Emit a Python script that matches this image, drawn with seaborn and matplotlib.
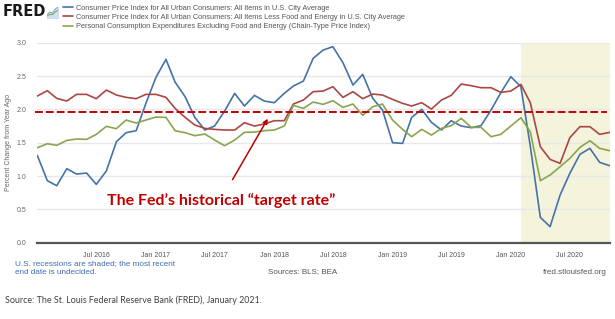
import numpy as np
import pandas as pd
import matplotlib
matplotlib.use("Agg")
import matplotlib.pyplot as plt
import matplotlib.dates as mdates
import seaborn as sns

# monthly data, Jan 2016 - Nov 2020 (percent change from year ago)
months = pd.date_range("2016-01-01", periods=59, freq="MS")

cpi_all = [1.31, 0.93, 0.855, 1.11, 1.03, 1.045, 0.875, 1.075, 1.515, 1.65, 1.68, 2.09, 2.48, 2.75, 2.41,
           2.19, 1.88, 1.69, 1.75, 1.975, 2.24, 2.05, 2.21, 2.125, 2.10, 2.24, 2.35, 2.425, 2.765, 2.89,
           2.94, 2.70, 2.365, 2.525, 2.165, 1.99, 1.50, 1.49, 1.88, 2.0, 1.805, 1.69, 1.83, 1.75, 1.725,
           1.755, 1.99, 2.25, 2.49, 2.34, 1.45, 0.38, 0.24, 0.715, 1.04, 1.325, 1.415, 1.205, 1.155]
cpi_core = [2.20, 2.28, 2.165, 2.125, 2.225, 2.225, 2.16, 2.29, 2.215, 2.18, 2.16, 2.225, 2.225, 2.18, 2.015,
            1.88, 1.765, 1.715, 1.70, 1.69, 1.69, 1.80, 1.75, 1.78, 1.83, 1.83, 2.08, 2.14, 2.265, 2.275,
            2.34, 2.18, 2.265, 2.16, 2.23, 2.215, 2.15, 2.09, 2.05, 2.10, 2.005, 2.14, 2.21, 2.38, 2.355,
            2.325, 2.325, 2.255, 2.275, 2.375, 2.10, 1.44, 1.25, 1.19, 1.575, 1.74, 1.74, 1.625, 1.655]
pce_core = [1.425, 1.485, 1.46, 1.535, 1.555, 1.55, 1.625, 1.745, 1.71, 1.84, 1.795, 1.84, 1.885, 1.88, 1.68,
            1.65, 1.605, 1.63, 1.54, 1.455, 1.54, 1.655, 1.66, 1.68, 1.69, 1.75, 2.06, 2.015, 2.11, 2.075,
            2.13, 2.03, 2.08, 1.91, 2.04, 2.08, 1.84, 1.70, 1.59, 1.70, 1.615, 1.715, 1.755, 1.865, 1.73,
            1.73, 1.59, 1.625, 1.75, 1.875, 1.665, 0.93, 1.015, 1.14, 1.265, 1.43, 1.53, 1.415, 1.38]

series_names = [
    "Consumer Price Index for All Urban Consumers: All Items in U.S. City Average",
    "Consumer Price Index for All Urban Consumers: All Items Less Food and Energy in U.S. City Average",
    "Personal Consumption Expenditures Excluding Food and Energy (Chain-Type Price Index)",
]
colors = ["#4572a7", "#aa4643", "#89a54e"]

target_rate = 1.965
recession_start = pd.Timestamp("2020-02-01")
tick_dates = pd.date_range("2016-07-01", "2020-07-01", freq="6MS")
yticks = [0.0, 0.5, 1.0, 1.5, 2.0, 2.5, 3.0]

df = pd.DataFrame({"date": np.tile(months, 3),
                   "value": cpi_all + cpi_core + pce_core,
                   "series": np.repeat(series_names, len(months))})

sns.set_theme(style="white")
plt.rcParams["font.family"] = ["Liberation Sans", "DejaVu Sans"]

fig = plt.figure(figsize=(6.15, 3.19), dpi=100)
ax = fig.add_axes([37.3 / 615, 1 - 242.7 / 319, (609.7 - 37.3) / 615, 200 / 319])

ax.axvspan(recession_start, months[-1], color="#f4f3dc", zorder=0, lw=0)
for y in yticks[1:]:
    ax.axhline(y, color="#e8e8e8", lw=1.0, zorder=0.5)

sns.lineplot(data=df, x="date", y="value", hue="series", palette=colors, lw=1.2,
             legend=False, ax=ax, zorder=3)

ax.axhline(target_rate, xmin=-0.004, xmax=0.996, color="#c00000", lw=1.4,
           ls=(0, (4, 1.6)), zorder=4, clip_on=False)

ax.set_xlim(months[0], months[-1])
ax.set_ylim(0, 3)
ax.set_yticks(yticks)
ax.set_yticklabels([f"{v:.1f}" for v in yticks])
ax.set_xticks(tick_dates)
ax.xaxis.set_major_formatter(mdates.DateFormatter("%b %Y"))
ax.tick_params(axis="x", direction="out", length=4, width=0.8, color="#c9d5e6",
               labelsize=5, labelcolor="#555555", pad=3)
ax.tick_params(axis="y", length=0, labelsize=5, labelcolor="#666666", pad=8)
for s in ["top", "right", "left"]:
    ax.spines[s].set_visible(False)
ax.spines["bottom"].set_color("#555555")
ax.spines["bottom"].set_linewidth(1.6)
ax.set_xlabel("")
ax.set_ylabel("Percent Change from Year Ago", fontsize=5, color="#666666", labelpad=3)

ax.annotate("The Fed\u2019s historical \u201ctarget rate\u201d",
            xy=(pd.Timestamp("2017-12-12"), 1.86), xytext=(pd.Timestamp("2017-07-20"), 0.64),
            ha="center", va="center", fontsize=11.5, fontweight="bold", color="#c00000",
            family=["Lato", "DejaVu Sans"],
            arrowprops=dict(arrowstyle="-|>", color="#c00000", lw=1.1, mutation_scale=7,
                            shrinkA=8, shrinkB=0), zorder=5)

# legend next to the FRED logo
handles = [plt.Line2D([], [], color=c, lw=1.2) for c in colors]
fig.legend(handles, series_names, loc="upper left", bbox_to_anchor=(62 / 615, 1 - 3 / 319),
           frameon=False, fontsize=5.3, handlelength=1.3, handletextpad=0.4,
           labelspacing=0.3, labelcolor="#555555", borderaxespad=0, borderpad=0.2)

fig.text(3 / 615, 1 - 12 / 319, "FRED", fontsize=10.5, fontweight="heavy", color="#1a1a1a",
         va="center", ha="left", family=["DejaVu Sans"])
icon = fig.add_axes([47 / 615, 1 - 18 / 319, 11 / 615, 12 / 319])
icon_x = [0, 1, 2, 3, 4]
icon_y = [1, 2, 1.6, 3, 3.6]
icon.fill_between(icon_x, icon_y, color="#cfe0ef")
icon.plot(icon_x, icon_y, color="#7aa6cf", lw=0.7)
icon.plot(icon_x, [0.6, 1.2, 1.1, 2.0, 2.6], color="#89a54e", lw=0.7)
icon.set_xlim(0, 4)
icon.set_ylim(0, 4)
icon.axis("off")

fig.text(15 / 615, 1 - 260.5 / 319, "U.S. recessions are shaded; the most recent\nend date is undecided.",
         fontsize=5.9, color="#3f6db3", va="top", ha="left", linespacing=1.2)
fig.text(303 / 615, 1 - 272 / 319, "Sources: BLS; BEA", fontsize=5.8, color="#555555",
         va="center", ha="center")
fig.text(607 / 615, 1 - 272 / 319, "fred.stlouisfed.org", fontsize=5.8, color="#555555",
         va="center", ha="right")
fig.text(5 / 615, 1 - 300 / 319, "Source: The St. Louis Federal Reserve Bank (FRED), January 2021.",
         fontsize=6.4, color="#404040", va="center", ha="left", family=["Lato", "DejaVu Sans"])

fig.savefig("out.png", dpi=100)
